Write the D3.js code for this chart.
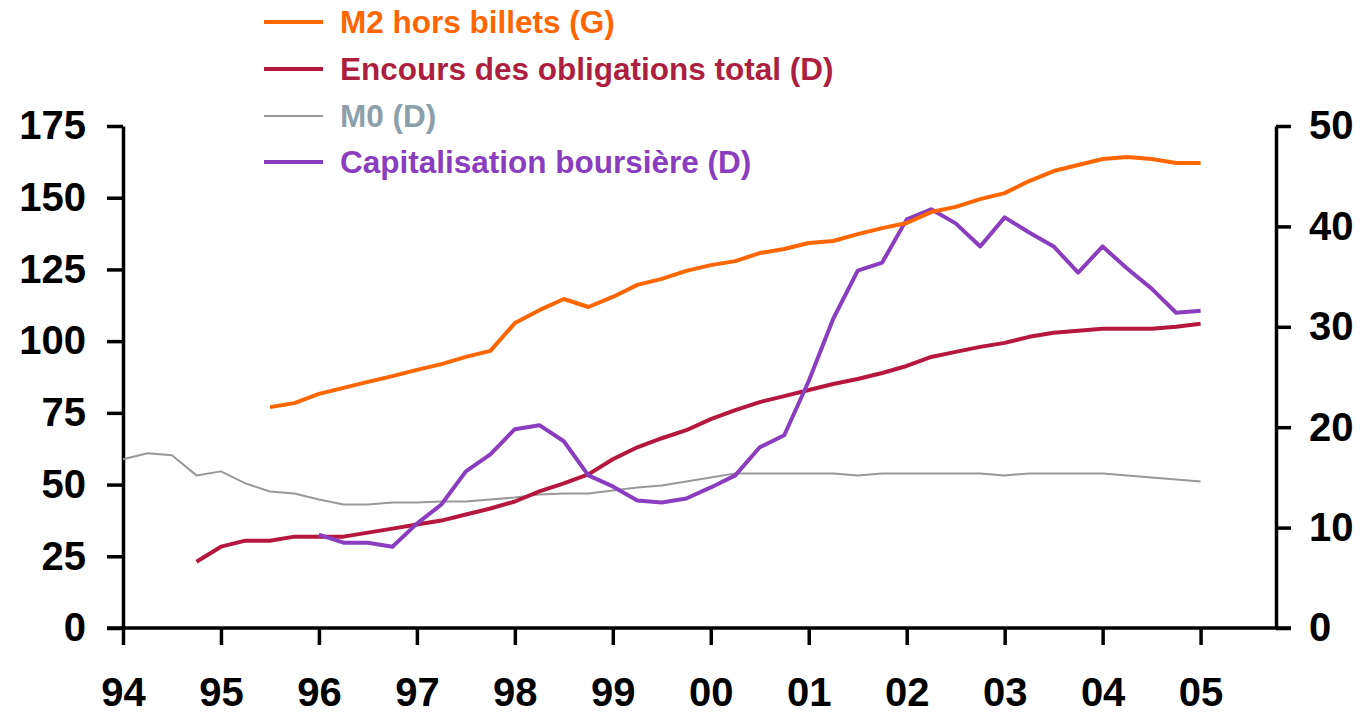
<!DOCTYPE html>
<html>
<head>
<meta charset="utf-8">
<script src="https://cdn.jsdelivr.net/npm/d3@7"></script>
<style>
body { margin: 0; background: #fff; }
text { font-family: "Liberation Sans", Arial, sans-serif; font-weight: bold; }
</style>
</head>
<body>
<svg width="1365" height="715"></svg>
<script>
// quarterly dates 94 -> 05
var quarters = d3.range(0, 45).map(function(i) { return 1994 + i * 0.25; });

var yearTicks = [1994, 1995, 1996, 1997, 1998, 1999, 2000, 2001, 2002, 2003, 2004, 2005];
var yearLabels = ["94", "95", "96", "97", "98", "99", "00", "01", "02", "03", "04", "05"];
var leftTicks = [0, 25, 50, 75, 100, 125, 150, 175];
var rightTicks = [0, 10, 20, 30, 40, 50];

// M2 hors billets (G), from 95T3
var m2Start = 1995.5;
var m2 = [77, 78.4,
  81.6, 83.7, 85.8, 87.8,
  90, 92, 94.5, 96.6,
  106.3, 110.8, 114.7, 111.9,
  115.4, 119.6, 121.7, 124.5,
  126.5, 127.9, 130.7, 132.1,
  134.2, 134.9, 137.3, 139.4,
  141.2, 145, 146.8, 149.5,
  151.6, 155.8, 159.3, 161.4,
  163.5, 164.2, 163.5, 162.1,
  162.1];

// Encours des obligations total (D), from 94T4
var oblStart = 1994.75;
var obligations = [6.6,
  8.1, 8.7, 8.7, 9.1,
  9.1, 9.1, 9.5, 9.9,
  10.3, 10.7, 11.3, 11.9,
  12.6, 13.6, 14.4, 15.3,
  16.8, 18.0, 18.9, 19.7,
  20.8, 21.7, 22.5, 23.1,
  23.7, 24.3, 24.8, 25.4,
  26.1, 27.0, 27.5, 28.0,
  28.4, 29.0, 29.4, 29.6,
  29.8, 29.8, 29.8, 30.0,
  30.3];

// M0 (D), from 94T1
var m0Start = 1994;
var m0 = [16.8, 17.4, 17.2, 15.2,
  15.6, 14.4, 13.6, 13.4,
  12.8, 12.3, 12.3, 12.5,
  12.5, 12.6, 12.6, 12.8,
  13.0, 13.3, 13.4, 13.4,
  13.7, 14.0, 14.2, 14.6,
  15.0, 15.4, 15.4, 15.4,
  15.4, 15.4, 15.2, 15.4,
  15.4, 15.4, 15.4, 15.4,
  15.2, 15.4, 15.4, 15.4,
  15.4, 15.2, 15.0, 14.8,
  14.6];

// Capitalisation boursiere (D), from 96T1
var capStart = 1996;
var capitalisation = [9.3, 8.5, 8.5, 8.1,
  10.4, 12.3, 15.6, 17.3,
  19.8, 20.2, 18.6, 15.2,
  14.1, 12.7, 12.5, 12.9,
  14.0, 15.2, 18.0, 19.2,
  24.6, 30.8, 35.6, 36.4,
  40.7, 41.7, 40.3, 38.0,
  40.9, 39.4, 38.0, 35.4,
  38.0, 35.8, 33.8, 31.4,
  31.6];

var series = [
  {name: "M2 hors billets (G)", values: m2, start: m2Start, axis: "left", color: "#ff6600", label: "#ff6600", width: 4},
  {name: "Encours des obligations total (D)", values: obligations, start: oblStart, axis: "right", color: "#b5173f", label: "#ad1f40", width: 4},
  {name: "M0 (D)", values: m0, start: m0Start, axis: "right", color: "#999999", label: "#8c9fab", width: 2},
  {name: "Capitalisation boursière (D)", values: capitalisation, start: capStart, axis: "right", color: "#8a3dbf", label: "#8a3dbf", width: 4}
];

var svg = d3.select("svg");

var xScale = d3.scaleLinear().domain([1994, 2005.78]).range([123, 1277]);
var yLeft = d3.scaleLinear().domain([0, 175]).range([628, 126]);
var yRight = d3.scaleLinear().domain([0, 50]).range([628, 126]);

function styleAxis(g) {
  g.select(".domain").attr("stroke", "#000").attr("stroke-width", 3.5);
  g.selectAll(".tick line").attr("stroke", "#000").attr("stroke-width", 3.5);
  g.selectAll(".tick text").attr("fill", "#000").style("font-size", "40px")
    .style("font-family", "'Liberation Sans', Arial, sans-serif").style("font-weight", "bold");
}

// x axis
svg.append("g")
  .attr("transform", "translate(0,628)")
  .call(d3.axisBottom(xScale).tickValues(yearTicks).tickSize(17).tickPadding(33)
    .tickSizeOuter(0).tickFormat(function(d, i) { return yearLabels[i]; }))
  .call(styleAxis)
  .call(function(g) {
    g.select(".domain").attr("d", "M107,0H1291");
  });

// left axis
svg.append("g")
  .attr("transform", "translate(123,0)")
  .call(d3.axisLeft(yLeft).tickValues(leftTicks).tickSize(16).tickPadding(21).tickSizeOuter(0))
  .call(styleAxis);

// right axis
svg.append("g")
  .attr("transform", "translate(1276,0)")
  .call(d3.axisRight(yRight).tickValues(rightTicks).tickSize(15).tickPadding(18).tickSizeOuter(0))
  .call(styleAxis);

var lineLeft = d3.line()
  .x(function(d) { return xScale(d.x); })
  .y(function(d) { return yLeft(d.v); });
var lineRight = d3.line()
  .x(function(d) { return xScale(d.x); })
  .y(function(d) { return yRight(d.v); });

// draw grey first so the thick lines sit above it
var drawOrder = [2, 1, 3, 0];
drawOrder.forEach(function(k) {
  var s = series[k];
  var pts = s.values.map(function(v, i) { return {x: s.start + i * 0.25, v: v}; });
  svg.append("path")
    .datum(pts)
    .attr("fill", "none")
    .attr("stroke", s.color)
    .attr("stroke-width", s.width)
    .attr("stroke-linejoin", "round")
    .attr("d", s.axis == "left" ? lineLeft : lineRight);
});

// legend
var legend = svg.append("g");
var legendRows = [22, 69, 116, 162];
series.forEach(function(s, i) {
  legend.append("line")
    .attr("x1", 264).attr("x2", 323)
    .attr("y1", legendRows[i]).attr("y2", legendRows[i])
    .attr("stroke", s.color)
    .attr("stroke-width", s.width == 2 ? 2 : 4);
  legend.append("text")
    .attr("x", 340)
    .attr("y", legendRows[i])
    .attr("dy", "0.36em")
    .attr("fill", s.label)
    .style("font-size", "31.5px")
    .text(s.name);
});
</script>
</body>
</html>
